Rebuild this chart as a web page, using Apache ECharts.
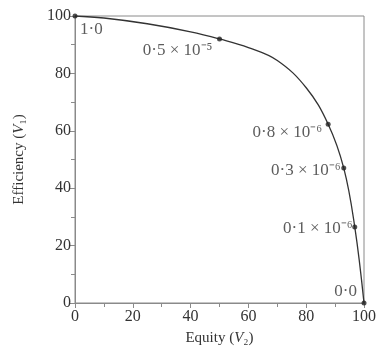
<!DOCTYPE html>
<html>
<head>
<meta charset="utf-8">
<script src="https://cdn.jsdelivr.net/npm/echarts@6/dist/echarts.min.js"></script>
<style>
  html, body { margin: 0; padding: 0; background: #fff; }
  #chart { width: 379px; height: 351px; }
</style>
</head>
<body>
<div id="chart"></div>
<script>
// curve
const curveX = [0, 10, 25, 40, 50, 60, 70, 80, 87.6, 93, 96.8, 100]
const curveY = [100, 99.3, 97.3, 94.5, 92, 89, 84.5, 75, 62.3, 47, 26.5, 0]
// marked points and their labels
const markX = [0, 50, 87.6, 93, 96.8, 100]
const markY = [100, 92, 62.3, 47, 26.5, 0]
const markLabels = ['1·0', '0·5 × 10⁻⁵', '0·8 × 10⁻⁶', '0·3 × 10⁻⁶', '0·1 × 10⁻⁶', '0·0']
const labelAlign = ['left', 'right', 'right', 'right', 'right', 'right']
const labelOffset = [[5, 14], [-7, 12], [-6, 8], [-3, 2], [-2, 2], [-7, -11]]
const ticks = [0, 20, 40, 60, 80, 100]

const font = 'Liberation Serif'
const axisGrey = '#8a8a8a'
const textColor = '#333'

const axisCommon = {
  type: 'value',
  min: 0,
  max: 100,
  interval: 20,
  axisLine: { show: true, lineStyle: { color: axisGrey, width: 1 } },
  axisTick: { show: true, length: 5, lineStyle: { color: axisGrey } },
  minorTick: { show: true, splitNumber: 2, length: 4, lineStyle: { color: axisGrey } },
  splitLine: { show: false },
  axisLabel: {
    color: textColor,
    fontFamily: font,
    fontSize: 16,
    formatter: v => (ticks.includes(v) ? String(v) : '')
  },
  nameLocation: 'middle',
  nameTextStyle: {
    color: textColor,
    fontFamily: font,
    fontSize: 15,
    rich: {
      n: { fontFamily: font, fontSize: 15, color: textColor },
      v: { fontFamily: font, fontSize: 15, fontStyle: 'italic', color: textColor }
    }
  }
}

const chart = echarts.init(document.getElementById('chart'))
chart.setOption({
  animation: false,
  backgroundColor: '#fff',
  grid: {
    left: 75, right: 13, top: 16, bottom: 44,
    show: true, borderColor: axisGrey, borderWidth: 1
  },
  xAxis: Object.assign({}, axisCommon, {
    name: '{n|Equity (}{v|V}{n|₂)}',
    nameGap: 28,
    axisLabel: Object.assign({}, axisCommon.axisLabel, { margin: 6 })
  }),
  yAxis: Object.assign({}, axisCommon, {
    name: '{n|Efficiency (}{v|V}{n|₁)}',
    nameGap: 48,
    axisLabel: Object.assign({}, axisCommon.axisLabel, { margin: 4 })
  }),
  series: [
    {
      type: 'line',
      smooth: 0.4,
      symbol: 'none',
      data: curveX.map((x, i) => [x, curveY[i]]),
      lineStyle: { color: '#333', width: 1.3 },
      z: 2
    },
    {
      type: 'scatter',
      symbolSize: 5,
      itemStyle: { color: '#222' },
      data: markX.map((x, i) => ({
        value: [x, markY[i]],
        label: {
          show: true,
          formatter: markLabels[i],
          position: 'inside',
          align: labelAlign[i],
          verticalAlign: 'middle',
          offset: labelOffset[i],
          color: textColor,
          fontFamily: font,
          fontSize: 17
        }
      })),
      z: 3
    }
  ]
})
</script>
</body>
</html>
